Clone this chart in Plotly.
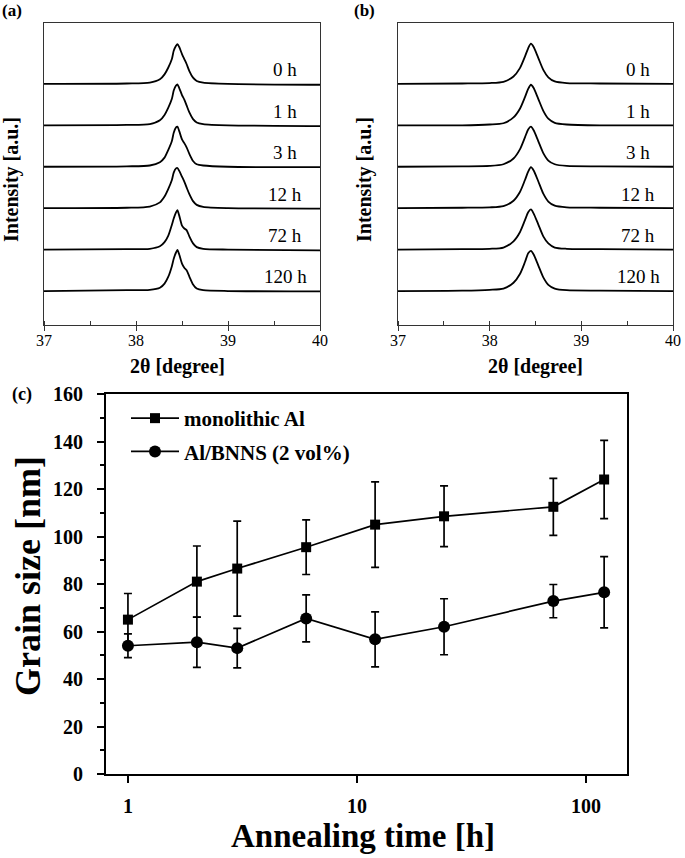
import plotly.graph_objects as go

# -------------------------------------------------------
# XRD profiles (Al (111) peak) (a) and (b)
# -------------------------------------------------------

hours = ["0 h", "1 h", "3 h", "12 h", "72 h", "120 h"]

two_theta_a = [37.0, 37.9, 38.15, 38.26, 38.31, 38.35, 38.39, 38.41, 38.435, 38.45,
               38.47, 38.50, 38.525, 38.55, 38.58, 38.62, 38.66, 38.73, 39.0, 40.0]

int_a_0h = [0, 0.01, 0.03, 0.11, 0.23, 0.39, 0.60, 0.80, 0.92, 0.96,
            0.89, 0.72, 0.60, 0.48, 0.31, 0.15, 0.07, 0.03, 0.0, -0.02]
int_a_1h = [0, 0.01, 0.03, 0.12, 0.25, 0.42, 0.64, 0.84, 0.96, 0.99,
            0.90, 0.73, 0.62, 0.48, 0.31, 0.15, 0.07, 0.03, 0.0, -0.02]
int_a_3h = [0, 0.01, 0.03, 0.11, 0.22, 0.40, 0.62, 0.82, 0.95, 0.97,
            0.86, 0.66, 0.57, 0.47, 0.31, 0.14, 0.06, 0.03, 0.0, -0.01]
int_a_12h = [0, 0.01, 0.04, 0.14, 0.28, 0.46, 0.68, 0.86, 0.96, 0.97,
             0.90, 0.76, 0.64, 0.50, 0.34, 0.17, 0.08, 0.03, 0.0, -0.01]
int_a_72h = [0, 0.01, 0.02, 0.08, 0.18, 0.33, 0.60, 0.75, 0.90, 0.95,
             0.82, 0.58, 0.51, 0.47, 0.32, 0.15, 0.06, 0.02, 0.0, -0.02]
int_a_120h = [0, 0.02, 0.03, 0.08, 0.18, 0.34, 0.60, 0.78, 0.93, 0.99,
              0.88, 0.66, 0.56, 0.50, 0.35, 0.16, 0.06, 0.02, 0.0, -0.01]

two_theta_b = [37.0, 37.7, 38.0, 38.15, 38.26, 38.33, 38.385, 38.42, 38.45,
               38.48, 38.53, 38.585, 38.64, 38.71, 38.84, 39.2, 40.0]

int_b_0h = [0, 0.01, 0.02, 0.05, 0.18, 0.38, 0.66, 0.86, 0.97, 0.89, 0.63, 0.34, 0.16, 0.06, 0.02, 0.01, 0.0]
int_b_1h = [0, 0.0, 0.02, 0.05, 0.19, 0.40, 0.68, 0.88, 0.98, 0.90, 0.64, 0.35, 0.16, 0.06, 0.02, 0.0, 0.0]
int_b_3h = [0, 0.01, 0.02, 0.06, 0.20, 0.42, 0.71, 0.90, 0.97, 0.88, 0.62, 0.33, 0.15, 0.06, 0.02, 0.01, 0.0]
int_b_12h = [0, 0.01, 0.02, 0.05, 0.18, 0.39, 0.68, 0.88, 0.99, 0.91, 0.65, 0.35, 0.16, 0.06, 0.02, 0.01, 0.0]
int_b_72h = [0, 0.01, 0.02, 0.05, 0.20, 0.42, 0.71, 0.90, 0.97, 0.87, 0.61, 0.32, 0.15, 0.05, 0.02, 0.01, 0.0]
int_b_120h = [0, 0.01, 0.03, 0.06, 0.20, 0.41, 0.70, 0.91, 0.97, 0.88, 0.62, 0.33, 0.15, 0.06, 0.02, 0.01, 0.0]

# -------------------------------------------------------
# Grain size vs annealing time, panel (c)
# -------------------------------------------------------

anneal_time = [1, 2, 3, 6, 12, 24, 72, 120]

mono_al = [65, 81, 86.5, 95.5, 105, 108.5, 112.5, 124]
mono_al_err = [11, 15, 20, 11.5, 18, 12.8, 12, 16.5]

al_bnns = [54, 55.5, 53, 65.5, 56.7, 62, 72.8, 76.5]
al_bnns_err = [5, 10.6, 8.3, 9.9, 11.6, 11.8, 7, 15]


FONT = "Liberation Serif, Times New Roman, serif"
W, H = 685, 858

fig = go.Figure()


def px_x(p):
    return p / W


def px_y(p):
    return 1 - p / H


# stacked XRD curves
step = 1.0
base = 0.82
top = 7.29

for curves, tt, xa, ya in [
    ([int_a_0h, int_a_1h, int_a_3h, int_a_12h, int_a_72h, int_a_120h], two_theta_a, "x", "y"),
    ([int_b_0h, int_b_1h, int_b_3h, int_b_12h, int_b_72h, int_b_120h], two_theta_b, "x2", "y2"),
]:
    for i, (lab, inten) in enumerate(zip(hours, curves)):
        off = base + (len(hours) - 1 - i) * step
        fig.add_trace(
            go.Scatter(
                x=tt,
                y=[v + off for v in inten],
                mode="lines",
                line=dict(color="black", width=1.8, shape="spline", smoothing=0.7),
                showlegend=False,
                xaxis=xa,
                yaxis=ya,
                hoverinfo="skip",
            )
        )
        fig.add_annotation(
            x=39.62, y=off + 0.34, xref=xa, yref=ya,
            text=lab, showarrow=False,
            font=dict(family=FONT, size=19, color="black"),
        )

# grain size
fig.add_trace(
    go.Scatter(
        x=anneal_time,
        y=mono_al,
        error_y=dict(type="data", array=mono_al_err, color="black", thickness=1.7, width=4),
        mode="lines+markers",
        marker=dict(symbol="square", size=10, color="black"),
        line=dict(color="black", width=1.7),
        name="monolithic Al",
        legendgroup="a",
        xaxis="x3",
        yaxis="y3",
    )
)

fig.add_trace(
    go.Scatter(
        x=anneal_time,
        y=al_bnns,
        error_y=dict(type="data", array=al_bnns_err, color="black", thickness=1.7, width=4),
        mode="lines+markers",
        marker=dict(symbol="circle", size=12, color="black"),
        line=dict(color="black", width=1.7),
        name="Al/BNNS (2 vol%)",
        legendgroup="b",
        xaxis="x3",
        yaxis="y3",
    )
)

xrd_x = dict(
    range=[37, 40],
    tickvals=[37, 38, 39, 40],
    ticks="outside",
    ticklen=5,
    tickcolor="#333",
    minor=dict(dtick=0.5, tick0=37, ticks="inside", ticklen=4, tickcolor="#333"),
    showline=True,
    linecolor="#333",
    linewidth=1.2,
    mirror=True,
    showgrid=False,
    zeroline=False,
    automargin=False,
    ticklabelstandoff=-4,
    tickfont=dict(family=FONT, size=16, color="black"),
)

xrd_y = dict(
    range=[0, top],
    showticklabels=False,
    ticks="",
    showline=True,
    linecolor="#333",
    linewidth=1.2,
    mirror=True,
    showgrid=False,
    zeroline=False,
    automargin=False,
)

fig.update_layout(
    template="none",
    width=W,
    height=H,
    margin=dict(l=0, r=0, t=0, b=0, pad=0),
    paper_bgcolor="white",
    plot_bgcolor="white",
    font=dict(family=FONT, color="black"),
    xaxis=dict(domain=[px_x(44), px_x(320)], anchor="y", **xrd_x),
    yaxis=dict(domain=[px_y(325), px_y(23)], anchor="x", **xrd_y),
    xaxis2=dict(domain=[px_x(398), px_x(673)], anchor="y2", **xrd_x),
    yaxis2=dict(domain=[px_y(325), px_y(23)], anchor="x2", **xrd_y),
    xaxis3=dict(
        domain=[px_x(106), px_x(627)],
        anchor="y3",
        type="log",
        range=[-0.0958, 2.179],
        tickvals=[1, 10, 100],
        ticktext=["1", "10", "100"],
        ticks="outside",
        ticklen=7,
        tickwidth=2,
        tickcolor="black",
        showline=True,
        linecolor="black",
        linewidth=2,
        mirror=True,
        showgrid=False,
        zeroline=False,
        automargin=False,
        ticklabelstandoff=6,
        tickfont=dict(family=FONT, size=20, color="black", weight="bold"),
    ),
    yaxis3=dict(
        domain=[px_y(774), px_y(394)],
        anchor="x3",
        range=[0, 160],
        dtick=20,
        ticks="outside",
        ticklen=7,
        tickwidth=2,
        tickcolor="black",
        minor=dict(dtick=10, ticks="outside", ticklen=4, tickwidth=2, tickcolor="black"),
        showline=True,
        linecolor="black",
        linewidth=2,
        mirror=True,
        showgrid=False,
        zeroline=False,
        automargin=False,
        ticklabelstandoff=10,
        tickfont=dict(family=FONT, size=20, color="black", weight="bold"),
    ),
    legend=dict(
        x=px_x(126),
        y=px_y(398),
        xanchor="left",
        yanchor="top",
        traceorder="grouped",
        tracegroupgap=3,
        itemwidth=48,
        bgcolor="rgba(0,0,0,0)",
        font=dict(family=FONT, size=21, color="black", weight="bold"),
    ),
    showlegend=True,
)

# panel letters and axis titles
labels = [
    ("(a)", 12, 11, 17, 0),
    ("(b)", 364, 11, 17, 0),
    ("(c)", 22, 394, 18, 0),
    ("Intensity [a.u.]", 11, 180, 20, -90),
    ("Intensity [a.u.]", 364, 180, 20, -90),
    ("2θ [degree]", 177, 366, 20, 0),
    ("2θ [degree]", 535, 366, 20, 0),
    ("Grain size [nm]", 28, 576, 36, -90),
    ("Annealing time [h]", 363, 836, 33, 0),
]

for txt, x, y, size, ang in labels:
    fig.add_annotation(
        x=px_x(x), y=px_y(y), xref="paper", yref="paper",
        text="<b>" + txt + "</b>", showarrow=False, textangle=ang,
        xanchor="center", yanchor="middle",
        font=dict(family=FONT, size=size, color="black"),
    )

# page body has a default 8px margin; drop it so the figure sits at the window corner
fig.write_html(
    "out.html",
    config={"displayModeBar": False},
    post_script="document.body.style.margin='0';",
)
